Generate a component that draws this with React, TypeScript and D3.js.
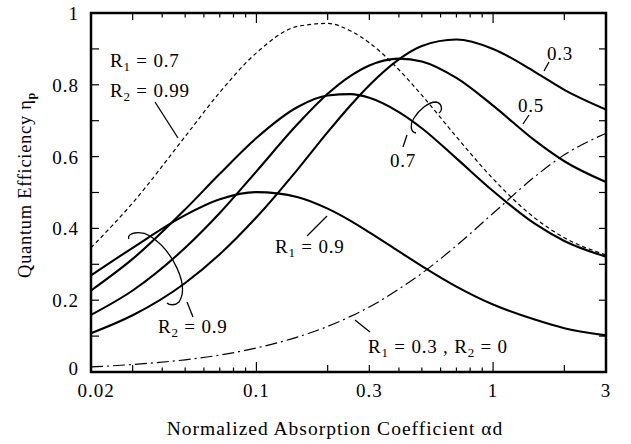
import React from "react";
import * as d3 from "d3";

// Normalized absorption coefficient (alpha d) sample points
const alphaD = [0.02, 0.03, 0.05, 0.07, 0.1, 0.15, 0.2, 0.25, 0.3, 0.4, 0.5, 0.7, 1, 1.5, 2, 3];

// R2 = 0.9 family (solid)
const r1_09 = [0.269, 0.346, 0.437, 0.481, 0.501, 0.487, 0.455, 0.421, 0.389, 0.336, 0.295, 0.238, 0.188, 0.146, 0.122, 0.102];
const r1_07 = [0.227, 0.315, 0.453, 0.552, 0.652, 0.739, 0.770, 0.774, 0.764, 0.724, 0.679, 0.595, 0.504, 0.413, 0.365, 0.321];
const r1_05 = [0.159, 0.227, 0.346, 0.443, 0.559, 0.692, 0.775, 0.825, 0.854, 0.873, 0.865, 0.819, 0.742, 0.645, 0.587, 0.529];
const r1_03 = [0.108, 0.158, 0.248, 0.328, 0.431, 0.566, 0.668, 0.743, 0.799, 0.871, 0.908, 0.926, 0.900, 0.836, 0.786, 0.731];
// R1 = 0.7, R2 = 0.99 (dashed)
const r1_07_r2_099 = [0.346, 0.471, 0.656, 0.779, 0.889, 0.963, 0.971, 0.950, 0.917, 0.842, 0.771, 0.655, 0.538, 0.429, 0.374, 0.326];
// R1 = 0.3, R2 = 0 (dash-dot)
const r1_03_r2_0 = [0.014, 0.021, 0.034, 0.047, 0.067, 0.098, 0.127, 0.155, 0.181, 0.231, 0.275, 0.352, 0.442, 0.544, 0.605, 0.665];

const xTickVals = [0.02, 0.1, 0.3, 1, 3];
const xTickLabels = ["0.02", "0.1", "0.3", "1", "3"];
const yTickVals = [0, 0.2, 0.4, 0.6, 0.8, 1];
const yTickLabels = ["0", "0.2", "0.4", "0.6", "0.8", "1"];

const W = 631, H = 444;
const L = 91, R = 606, T = 13, B = 372;
const FONT = "Liberation Serif";

export default function App() {
  const x = d3.scaleLog().domain([0.02, 3]).range([L, R]);
  const y = d3.scaleLinear().domain([0, 1]).range([B, T]);
  const line = d3
    .line<number>()
    .x((_, i) => x(alphaD[i]))
    .y((d) => y(d))
    .curve(d3.curveMonotoneX);

  const xTicks: { v: number; len: number }[] = [];
  [0.01, 0.1, 1].forEach((dec) => {
    for (let m = 1; m <= 9; m++) {
      const v = +(m * dec).toFixed(4);
      if (v < 0.02 - 1e-9 || v > 3 + 1e-9) continue;
      const len = m === 1 ? 10 : m <= 3 ? 7 : 4.5;
      xTicks.push({ v, len });
    }
  });
  const yTicks = d3.range(0, 11).map((i) => i / 10);

  const solid = [r1_09, r1_07, r1_05, r1_03];
  const ts = { fontFamily: FONT };

  return (
    <svg width={W} height={H} style={{ position: "absolute", left: 0, top: 0, background: "#fff" }}>
      <rect x={0} y={0} width={W} height={H} fill="#fff" />
      {solid.map((s, i) => (
        <path key={i} d={line(s) || ""} fill="none" stroke="#000" strokeWidth={2.1} />
      ))}
      <path d={line(r1_07_r2_099) || ""} fill="none" stroke="#000" strokeWidth={1.2} strokeDasharray="4,3" />
      <path d={line(r1_03_r2_0) || ""} fill="none" stroke="#000" strokeWidth={1.2} strokeDasharray="12,4,2,4" />

      {xTicks.map((t, i) => (
        <g key={"xt" + i}>
          <line x1={x(t.v)} x2={x(t.v)} y1={B} y2={B - t.len} stroke="#000" strokeWidth={1.2} />
          <line x1={x(t.v)} x2={x(t.v)} y1={T} y2={T + t.len} stroke="#000" strokeWidth={1.2} />
        </g>
      ))}
      {yTicks.map((v, i) => (
        <g key={"yt" + i}>
          <line x1={L} x2={L + 8} y1={y(v)} y2={y(v)} stroke="#000" strokeWidth={1.2} />
          <line x1={R} x2={R - 7} y1={y(v)} y2={y(v)} stroke="#000" strokeWidth={1.2} />
        </g>
      ))}
      <rect x={L} y={T} width={R - L} height={B - T} fill="none" stroke="#000" strokeWidth={2.5} />

      <g style={ts}>
        {xTickVals.map((v, i) => (
          <text key={"xl" + i} x={x(v) + (i === 0 ? 5 : 0)} y={397} textAnchor="middle" fontSize={19} letterSpacing={1}>
            {xTickLabels[i]}
          </text>
        ))}
        {yTickVals.map((v, i) => (
          <text key={"yl" + i} x={79} y={y(v) + (i === 0 ? 3 : 7)} textAnchor="end" fontSize={19} letterSpacing={1}>
            {yTickLabels[i]}
          </text>
        ))}

        <text x={335} y={435} textAnchor="middle" fontSize={19.5} letterSpacing={1}>
          Normalized Absorption Coefficient αd
        </text>
        <text transform="translate(31,185) rotate(-90)" textAnchor="middle" fontSize={18.5} letterSpacing={0.7}>
          Quantum Efficiency η<tspan fontSize={12} dy={4} fontWeight="bold">p</tspan>
        </text>

        <g fontSize={19} letterSpacing={0.8}>
          <text x={110} y={67}>R<tspan fontSize={13} dy={4}>1</tspan><tspan dy={-4}> = 0.7</tspan></text>
          <text x={110} y={97}>R<tspan fontSize={13} dy={4}>2</tspan><tspan dy={-4}> = 0.99</tspan></text>
          <text x={547} y={60}>0.3</text>
          <text x={518} y={112}>0.5</text>
          <text x={390} y={167}>0.7</text>
          <text x={275} y={253}>R<tspan fontSize={13} dy={4}>1</tspan><tspan dy={-4}> = 0.9</tspan></text>
          <text x={158} y={333}>R<tspan fontSize={13} dy={4}>2</tspan><tspan dy={-4}> = 0.9</tspan></text>
          <text x={368} y={353}>
            R<tspan fontSize={13} dy={4}>1</tspan><tspan dy={-4}> = 0.3 , R</tspan>
            <tspan fontSize={13} dy={4}>2</tspan><tspan dy={-4}> = 0</tspan>
          </text>
        </g>
      </g>
      <g stroke="#000" strokeWidth={1.3} fill="none">
        <line x1={155} y1={102} x2={178} y2={138} />
        <line x1={549} y1={62} x2={544} y2={71} />
        <line x1={529} y1={115} x2={523} y2={124} />
        <line x1={407} y1={135} x2={403} y2={147} />
        <line x1={327} y1={216} x2={307} y2={236} />
        <line x1={187} y1={302} x2={193} y2={317} />
        <line x1={355} y1={320} x2={370} y2={332} />
        <path d="M416,133 C410,132 410,124 414,118 C419,110 428,102 436,102 C442,103 443,110 439,113" />
        <path d="M129,239 C126,233 140,230 150,236 C172,250 190,285 179,302 C175,306 169,305 167,303" />
      </g>
    </svg>
  );
}
